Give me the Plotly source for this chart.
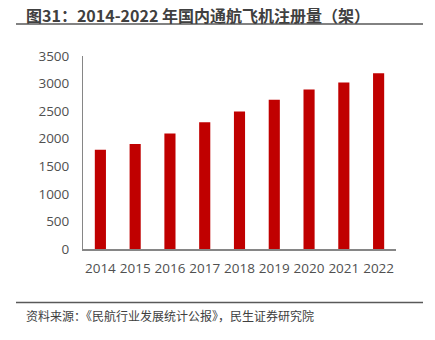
import plotly.graph_objects as go

years = ["2014", "2015", "2016", "2017", "2018", "2019", "2020", "2021", "2022"]
registrations = [1800, 1904, 2096, 2297, 2495, 2707, 2892, 3018, 3186]
y_ticks = [0, 500, 1000, 1500, 2000, 2500, 3000, 3500]

title_text = "图31：2014-2022 年国内通航飞机注册量（架）"
source_text = "资料来源：《民航行业发展统计公报》，民生证券研究院"

W, H = 435, 340
ML, MR, MT, MB = 83, 39, 56, 91
PW, PH = W - ML - MR, H - MT - MB

def px_x(x):
    return (x - ML) / PW

def px_y(y):
    return (H - MB - y) / PH

cjk = "Noto Sans CJK SC"
num_font = "Open Sans"

fig = go.Figure(go.Bar(
    x=years, y=registrations,
    marker=dict(color="#C00000", line=dict(width=0)),
))

fig.update_layout(
    width=W, height=H,
    margin=dict(l=ML, r=MR, t=MT, b=MB),
    paper_bgcolor="white", plot_bgcolor="white",
    bargap=0.68,
    showlegend=False,
    xaxis=dict(
        type="category",
        showline=True, linecolor="#868686", linewidth=1.5,
        ticks="", showgrid=False,
        tickfont=dict(family=num_font, size=13.5, color="#505050"),
        ticklabelstandoff=6,
    ),
    yaxis=dict(
        range=[0, 3500], tickvals=y_ticks,
        showline=True, linecolor="#868686", linewidth=1,
        ticks="", showgrid=False, zeroline=False,
        tickfont=dict(family=num_font, size=13.5, color="#505050"),
        ticklabelstandoff=10,
    ),
    shapes=[
        dict(type="line", xref="paper", yref="paper",
             x0=px_x(16), x1=px_x(423), y0=px_y(24), y1=px_y(24),
             line=dict(color="#595959", width=1.5)),
        dict(type="line", xref="paper", yref="paper",
             x0=px_x(16), x1=px_x(423), y0=px_y(302.5), y1=px_y(302.5),
             line=dict(color="#595959", width=1.5)),
    ],
    annotations=[
        dict(text="<b>" + title_text + "</b>", xref="paper", yref="paper",
             x=px_x(24), y=px_y(15), xanchor="left", yanchor="middle",
             showarrow=False,
             font=dict(family=cjk, size=16, color="#404040")),
        dict(text=source_text, xref="paper", yref="paper",
             x=px_x(24), y=px_y(315), xanchor="left", yanchor="middle",
             showarrow=False,
             font=dict(family=cjk, size=12, color="#404040")),
    ],
)

fig.write_html("out.html")
